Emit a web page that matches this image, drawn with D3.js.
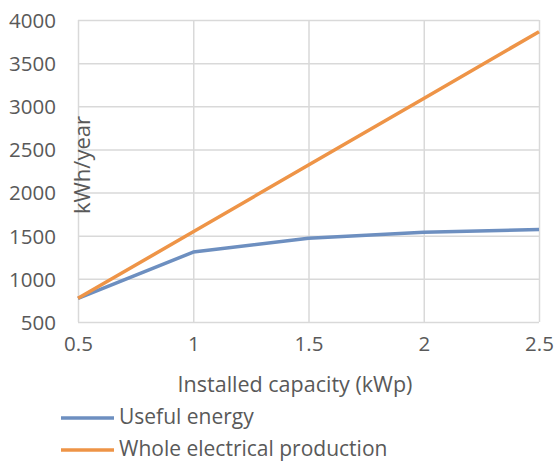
<!DOCTYPE html>
<html>
<head>
<meta charset="utf-8">
<script src="https://cdn.jsdelivr.net/npm/d3@7"></script>
<style>
  html, body { margin: 0; padding: 0; background: #fff; }
  svg { display: block; }
  text { font-family: "Open Sans", "Liberation Sans", sans-serif; fill: #595959; }
</style>
</head>
<body>
<svg id="chart" width="555" height="462"></svg>
<script>
// Installed capacity (kWp)
const capacity = [0.5, 1, 1.5, 2, 2.5];
// Annual energy, kWh/year
const usefulEnergy = [775, 1310, 1470, 1540, 1572];
const wholeProduction = [775, 1545, 2320, 3090, 3865];
const yTicks = [500, 1000, 1500, 2000, 2500, 3000, 3500, 4000];
const xTicks = [0.5, 1, 1.5, 2, 2.5];
const seriesNames = ["Useful energy", "Whole electrical production"];
const seriesColors = ["#6D8FC0", "#EE9447"];

const svg = d3.select("#chart");
const plot = { left: 78, right: 539, top: 20, bottom: 322 };

const x = d3.scaleLinear().domain([0.5, 2.5]).range([plot.left, plot.right]);
const y = d3.scaleLinear().domain([500, 4000]).range([plot.bottom, plot.top]);

// horizontal gridlines with y tick labels
const yAxis = d3.axisLeft(y).tickValues(yTicks).tickSize(-(plot.right - plot.left)).tickPadding(22).tickFormat(d3.format("d"));
const gy = svg.append("g").attr("transform", `translate(${plot.left},0)`).call(yAxis);
gy.select(".domain").remove();
gy.selectAll("line").attr("stroke", "#d9d9d9").attr("stroke-width", 1.5);
gy.selectAll("text").style("font-size", "20.5px").attr("fill", "#595959").attr("dy", "0.36em");

// vertical gridlines with x tick labels
const xAxis = d3.axisBottom(x).tickValues(xTicks).tickSize(-(plot.bottom - plot.top)).tickPadding(14).tickFormat(d3.format("~g"));
const gx = svg.append("g").attr("transform", `translate(0,${plot.bottom})`).call(xAxis);
gx.select(".domain").remove();
gx.selectAll("line").attr("stroke", "#d9d9d9").attr("stroke-width", 1.5);
gx.selectAll("text").style("font-size", "20.5px").attr("fill", "#595959");

// series lines
const line = d3.line().x((d, i) => x(capacity[i])).y(d => y(d));
[usefulEnergy, wholeProduction].forEach((vals, k) => {
  svg.append("path")
    .datum(vals)
    .attr("fill", "none")
    .attr("stroke", seriesColors[k])
    .attr("stroke-width", 3.5)
    .attr("stroke-linejoin", "round")
    .attr("d", line);
});

// axis titles
svg.append("text")
  .attr("transform", `translate(90,165) rotate(-90)`)
  .attr("text-anchor", "middle")
  .style("font-size", "22px")
  .text("kWh/year");

svg.append("text")
  .attr("x", 295).attr("y", 392)
  .attr("text-anchor", "middle")
  .style("font-size", "21.5px")
  .text("Installed capacity (kWp)");

// legend
seriesNames.forEach((name, k) => {
  const ly = 418 + k * 32;
  svg.append("line")
    .attr("x1", 61).attr("x2", 114).attr("y1", ly).attr("y2", ly)
    .attr("stroke", seriesColors[k]).attr("stroke-width", 3.5);
  svg.append("text")
    .attr("x", 119).attr("y", ly + 6)
    .style("font-size", "21px")
    .text(name);
});
</script>
</body>
</html>
